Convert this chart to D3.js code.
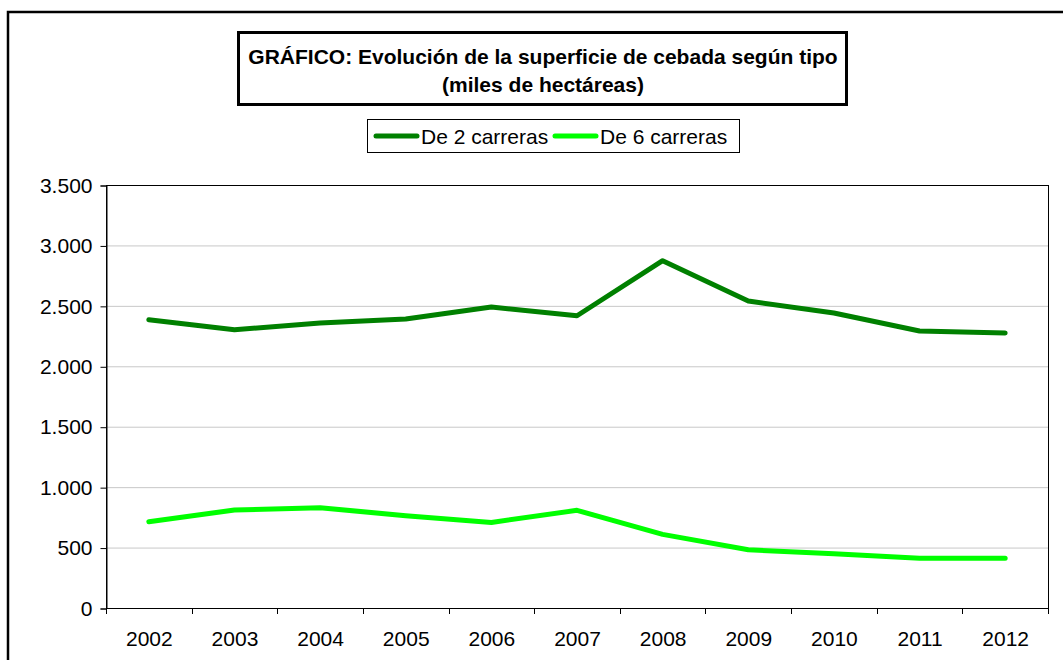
<!DOCTYPE html>
<html><head><meta charset="utf-8">
<script src="https://cdn.jsdelivr.net/npm/d3@7"></script>
<style>body{margin:0;background:#fff}svg{display:block;font-family:"Liberation Sans",Arial,sans-serif}</style>
</head><body><svg id="c" width="1063" height="660"></svg>
<script>
const years = ["2002","2003","2004","2005","2006","2007","2008","2009","2010","2011","2012"];
const dos = [2385,2303,2358,2391,2490,2418,2874,2540,2441,2292,2275];
const seis = [714,811,830,764,708,808,609,482,449,411,411];
const seriesNames = ["De 2 carreras","De 6 carreras"];
const seriesColors = ["#008000","#00ff00"];
const yTicks = [0,500,1000,1500,2000,2500,3000,3500];
const titleLines = ["GRÁFICO: Evolución de la superficie de cebada según tipo","(miles de hectáreas)"];

const FS = 21;
const svg = d3.select("#c");
const m = {l:106, t:185, r:1048, b:608};
svg.append("rect").attr("x",8).attr("y",12).attr("width",1070).attr("height",670)
  .attr("fill","none").attr("stroke","#000").attr("stroke-width",2.5);

const x = d3.scaleBand().domain(years).range([m.l,m.r]).padding(0);
const y = d3.scaleLinear().domain([0,3500]).range([m.b,m.t]);

// gridlines
svg.append("g").selectAll("line").data(yTicks.filter(d=>d>0&&d<3500)).join("line")
  .attr("x1",m.l).attr("x2",m.r).attr("y1",d=>y(d)+0.5).attr("y2",d=>y(d)+0.5)
  .attr("stroke","#c8c8c8").attr("stroke-width",1);

// plot border
svg.append("rect").attr("x",m.l+0.5).attr("y",m.t+0.5).attr("width",m.r-m.l).attr("height",m.b-m.t)
  .attr("fill","none").attr("stroke","#000").attr("stroke-width",1);

// y axis
const ya = svg.append("g").attr("transform",`translate(${m.l+0.5},0.5)`)
  .call(d3.axisLeft(y).tickValues(yTicks).tickSize(6).tickPadding(8)
    .tickFormat(d=>d3.format(",")(d).replace(/,/g,".")));
ya.select(".domain").attr("stroke","#000");
ya.selectAll("text").attr("font-size",FS).attr("fill","#000").attr("font-family","Liberation Sans, Arial");

// x axis
const xa = svg.append("g").attr("transform",`translate(0.5,${m.b+0.5})`)
  .call(d3.axisBottom(x).tickSize(0));
xa.select(".domain").remove();
xa.selectAll("text").attr("y",37).attr("dy",0).attr("font-size",FS).attr("fill","#000").attr("font-family","Liberation Sans, Arial");
const bounds = years.map(d=>x(d)).concat([x.range()[1]]);
svg.append("g").selectAll("line").data(bounds).join("line")
  .attr("x1",d=>Math.round(d)+0.5).attr("x2",d=>Math.round(d)+0.5)
  .attr("y1",m.b).attr("y2",m.b+6).attr("stroke","#000");

// lines
const line = d3.line().x((d,i)=>x(years[i])+x.bandwidth()/2).y(d=>y(d));
[dos,seis].forEach((s,k)=>{
  svg.append("path").datum(s).attr("d",line).attr("fill","none")
    .attr("stroke",seriesColors[k]).attr("stroke-width",5)
    .attr("stroke-linejoin","round").attr("stroke-linecap","round");
});

// title box
svg.append("rect").attr("x",238.5).attr("y",32.5).attr("width",608).attr("height",72)
  .attr("fill","#fff").attr("stroke","#000").attr("stroke-width",3);
svg.append("g").selectAll("text").data(titleLines).join("text")
  .attr("x",543).attr("y",(d,i)=>63.5+i*28).attr("text-anchor","middle")
  .attr("font-size",FS).attr("font-weight","bold").text(d=>d);

// legend
svg.append("rect").attr("x",367.5).attr("y",119.5).attr("width",372).attr("height",33)
  .attr("fill","#fff").attr("stroke","#000").attr("stroke-width",1);
const legX = [376,555];
seriesNames.forEach((n,k)=>{
  svg.append("line").attr("x1",legX[k]).attr("x2",legX[k]+41).attr("y1",136).attr("y2",136)
    .attr("stroke",seriesColors[k]).attr("stroke-width",5).attr("stroke-linecap","round");
  svg.append("text").attr("x",legX[k]+45).attr("y",143.5).attr("font-size",FS).text(n);
});
</script></body></html>
